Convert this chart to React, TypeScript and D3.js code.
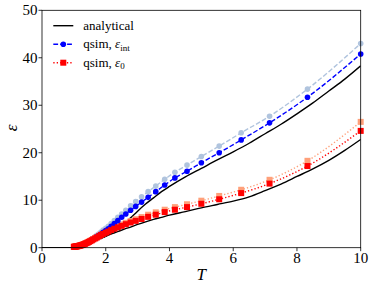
import React from "react";
import * as d3 from "d3";

// Temperatures of the simulated points
const temps = [1.0, 1.02, 1.042, 1.064, 1.087, 1.111, 1.136, 1.163, 1.19, 1.22, 1.25, 1.28, 1.316, 1.35, 1.39, 1.43, 1.47, 1.515, 1.5625, 1.61, 1.67, 1.72, 1.79, 1.85, 1.92, 2.0, 2.08, 2.17, 2.27, 2.38, 2.5, 2.63, 2.78, 2.94, 3.125, 3.33, 3.57, 3.85, 4.17, 4.55, 5.0, 5.56, 6.25, 7.14, 8.33, 10.0];

const qsimInt = [0.16, 0.18, 0.2, 0.23, 0.26, 0.29, 0.33, 0.37, 0.42, 0.48, 0.55, 0.62, 0.7, 0.8, 0.92, 1.05, 1.2, 1.35, 1.55, 1.75, 2.0, 2.3, 2.6, 2.9, 3.25, 3.6, 4.0, 4.5, 5.1, 5.7, 6.4, 7.1, 7.9, 8.7, 9.6, 10.6, 11.8, 13.2, 14.7, 16.1, 17.9, 20.0, 22.7, 26.3, 31.7, 40.8];
const qsimIntLight = [0.17, 0.19, 0.22, 0.25, 0.28, 0.32, 0.36, 0.41, 0.47, 0.54, 0.62, 0.7, 0.8, 0.9, 1.05, 1.2, 1.35, 1.55, 1.75, 2.0, 2.3, 2.6, 2.95, 3.3, 3.7, 4.1, 4.5, 5.1, 5.7, 6.4, 7.1, 7.9, 8.8, 9.7, 10.7, 11.8, 13.0, 14.4, 15.9, 17.4, 19.2, 21.4, 24.2, 27.7, 33.4, 43.0];
const qsim0 = [0.18, 0.2, 0.22, 0.25, 0.28, 0.31, 0.35, 0.39, 0.44, 0.5, 0.56, 0.64, 0.73, 0.83, 0.95, 1.08, 1.22, 1.38, 1.55, 1.75, 1.95, 2.15, 2.4, 2.65, 2.9, 3.15, 3.4, 3.7, 4.0, 4.3, 4.6, 4.95, 5.3, 5.65, 6.05, 6.5, 6.95, 7.5, 8.0, 8.55, 9.25, 10.2, 11.5, 13.5, 17.2, 24.6];
const qsim0Light = [0.19, 0.21, 0.23, 0.26, 0.29, 0.33, 0.37, 0.41, 0.46, 0.52, 0.59, 0.67, 0.77, 0.87, 1.0, 1.13, 1.28, 1.45, 1.63, 1.83, 2.05, 2.26, 2.52, 2.78, 3.05, 3.33, 3.6, 3.92, 4.25, 4.55, 4.9, 5.25, 5.6, 6.0, 6.45, 6.95, 7.45, 8.0, 8.55, 9.15, 9.9, 10.9, 12.2, 14.3, 18.3, 26.5];

// Analytical curves
const anaT = [0, 0.5, 0.9, 1.0, 1.2, 1.4, 1.6, 1.8, 2.0, 2.2, 2.4, 2.6, 2.8, 3.0, 3.25, 3.5, 3.75, 4.0, 4.5, 5.0, 5.5, 6.0, 6.5, 7.0, 7.5, 8.0, 8.5, 9.0, 9.5, 10.0];
const anaInt = [0, 0, 0, 0.02, 0.3, 0.75, 1.3, 1.85, 2.45, 3.1, 4.0, 5.1, 6.4, 7.7, 9.2, 10.5, 11.8, 12.9, 14.9, 16.7, 18.5, 20.2, 22.0, 24.0, 26.0, 28.2, 30.5, 33.0, 35.5, 38.3];
const ana0 = [0, 0, 0, 0.02, 0.3, 0.75, 1.3, 1.85, 2.4, 2.95, 3.45, 3.95, 4.4, 4.9, 5.45, 5.95, 6.4, 6.85, 7.6, 8.4, 9.1, 9.8, 10.7, 12.0, 13.4, 15.0, 16.6, 18.4, 20.5, 22.8];

const xTicks = [0, 2, 4, 6, 8, 10];
const yTicks = [0, 10, 20, 30, 40, 50];

const W = 374;
const H = 289;
const left = 42, right = 360.7, top = 10.3, bottom = 247.7;
const FONT = "Liberation Serif, Times New Roman, DejaVu Serif, serif";

export default function App() {
  const x = d3.scaleLinear().domain([0, 10]).range([left, right]);
  const y = d3.scaleLinear().domain([0, 50]).range([bottom, top]);
  const line = d3
    .line<[number, number]>()
    .x((d) => x(d[0]))
    .y((d) => y(d[1]))
    .curve(d3.curveMonotoneX);
  const zip = (xs: number[], ys: number[]) => xs.map((t, i) => [t, ys[i]] as [number, number]);

  const series = [
    { vals: qsimIntLight, color: "#b0c4de", dash: "4.8,2.1", marker: "circle" },
    { vals: qsim0Light, color: "#ffa07a", dash: "1.3,2.1", marker: "square" },
    { vals: qsimInt, color: "#0000ff", dash: "4.8,2.1", marker: "circle" },
    { vals: qsim0, color: "#ff0000", dash: "1.3,2.1", marker: "square" },
  ];

  const lx0 = 53.3, lx1 = 73.3, ltx = 83.3;
  const rows = [25.7, 44.3, 62.7];
  const ts = { fontFamily: FONT } as React.CSSProperties;
  const R = 2.8, S = 6;

  return (
    <svg width={W} height={H} style={{ position: "absolute", left: 0, top: 0, background: "#fff", fontFamily: FONT }}>
      <rect x={0} y={0} width={W} height={H} fill="#fff" />
      <defs>
        <clipPath id="plot">
          <rect x={left} y={top} width={right - left} height={bottom - top} />
        </clipPath>
      </defs>
      <g clipPath="url(#plot)">
        <path d={line(zip(anaT, anaInt)) || ""} fill="none" stroke="#000" strokeWidth={1.4} />
        <path d={line(zip(anaT, ana0)) || ""} fill="none" stroke="#000" strokeWidth={1.4} />
      </g>
      {series.map((s, si) => (
        <g key={si}>
          <path d={line(zip(temps, s.vals)) || ""} fill="none" stroke={s.color} strokeWidth={1.4} strokeDasharray={s.dash} />
          {temps.map((t, i) =>
            s.marker === "circle" ? (
              <circle key={i} cx={x(t)} cy={y(s.vals[i])} r={R} fill={s.color} />
            ) : (
              <rect key={i} x={x(t) - S / 2} y={y(s.vals[i]) - S / 2} width={S} height={S} fill={s.color} />
            )
          )}
        </g>
      ))}
      {/* frame */}
      <rect x={left} y={top} width={right - left} height={bottom - top} fill="none" stroke="#000" strokeWidth={0.8} />
      {/* x ticks */}
      {xTicks.map((t) => (
        <g key={"x" + t}>
          <line x1={x(t)} x2={x(t)} y1={bottom} y2={bottom + 3.5} stroke="#000" strokeWidth={0.8} />
          <text x={x(t)} y={263} textAnchor="middle" fontSize={15} style={ts}>
            {t}
          </text>
        </g>
      ))}
      {yTicks.map((t) => (
        <g key={"y" + t}>
          <line x1={left - 3.5} x2={left} y1={y(t)} y2={y(t)} stroke="#000" strokeWidth={0.8} />
          <text x={37.5} y={y(t) + 5} textAnchor="end" fontSize={15} style={ts}>
            {t}
          </text>
        </g>
      ))}
      <text x={(left + right) / 2} y={280} textAnchor="middle" fontSize={17} fontStyle="italic" style={ts}>
        T
      </text>
      <text transform="translate(17,128) rotate(-90)" textAnchor="middle" fontSize={17} fontStyle="italic" style={ts}>
        ε
      </text>
      {/* legend */}
      <g>
        <line x1={lx0} x2={lx1} y1={rows[0]} y2={rows[0]} stroke="#000" strokeWidth={1.4} />
        <text x={ltx} y={rows[0] + 4} fontSize={13} style={ts}>analytical</text>
        <line x1={lx0} x2={lx1} y1={rows[1]} y2={rows[1]} stroke="#0000ff" strokeWidth={1.4} strokeDasharray="4.8,2.1" />
        <circle cx={(lx0 + lx1) / 2} cy={rows[1]} r={R} fill="#0000ff" />
        <text x={ltx} y={rows[1] + 4} fontSize={13} style={ts}>
          qsim, <tspan fontStyle="italic">ε</tspan>
          <tspan fontSize={9} dy={2.5}>int</tspan>
        </text>
        <line x1={lx0} x2={lx1} y1={rows[2]} y2={rows[2]} stroke="#ff0000" strokeWidth={1.4} strokeDasharray="1.3,2.1" />
        <rect x={(lx0 + lx1) / 2 - S / 2} y={rows[2] - S / 2} width={S} height={S} fill="#ff0000" />
        <text x={ltx} y={rows[2] + 4} fontSize={13} style={ts}>
          qsim, <tspan fontStyle="italic">ε</tspan>
          <tspan fontSize={9} dy={2.5}>0</tspan>
        </text>
      </g>
    </svg>
  );
}
